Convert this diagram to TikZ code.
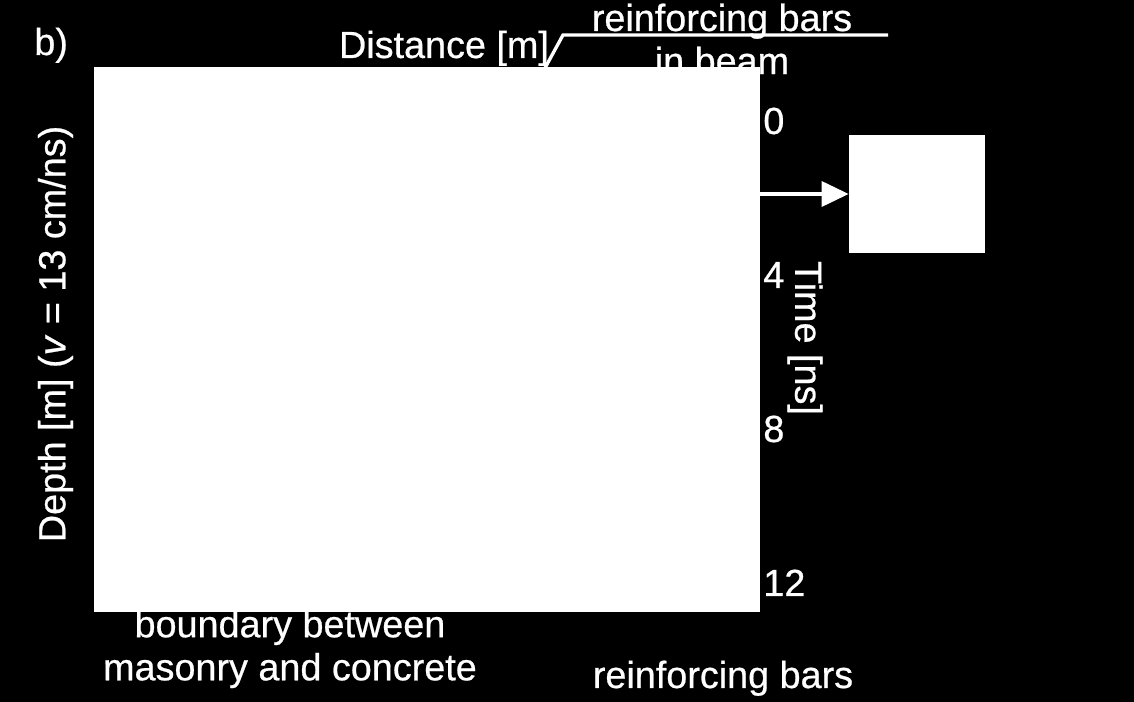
\documentclass[tikz,border=0pt]{standalone}
\usepackage{fontspec}
\setmainfont{Liberation Sans}
\newfontfamily\plotfont{Liberation Sans}[FakeBold=0.6]
\usetikzlibrary{arrows.meta,positioning}
\tikzset{
  label/.style={text=white, inner sep=0pt, font=\plotfont\fontsize{21.5}{24.5}\selectfont},
  panel/.style={fill=white, draw=none, inner sep=0pt},
  tick/.style={label, anchor=base west},
  leader/.style={draw=white, line width=1.9pt},
  pointer/.style={draw=white, line width=2pt, -{Triangle[length=0.54cm,width=0.5cm]}}
}

\begin{document}
\begin{tikzpicture}[x=0.02cm, y=-0.02cm]
    \fill[black] (0,0) rectangle (1134,702);
    \useasboundingbox (0,0) rectangle (1134,702);

    \node[label, anchor=base west] (tag) at (34,55) {b)};
    \node[label, anchor=base] (distlabel) at (444,58) {Distance [m]};
    \node[label, align=center] (beambars) at (722,39) {reinforcing bars\\in beam};

    % radargram and inset
    \node[panel, minimum width=13.32cm, minimum height=10.9cm] (radar) at (427,339.5) {};
    \node[panel, minimum width=2.72cm, minimum height=2.36cm] (inset) at (917,194) {};
    \draw[pointer] (radar.east |- inset.west) -- (inset.west);

    \coordinate (leadfoot) at (545,68);
    \coordinate (kink) at (563,35);
    \coordinate (leadend) at (888,35);
    \draw[leader] (leadfoot) -- (kink) -- (leadend);

    % axes
    \node[label, rotate=90] (depthlabel) at (55.5,334) {Depth [m] (\textit{v} = 13 cm/ns)};
    \node[label, rotate=-90] (timelabel) at (805,338) {Time [ns]};
    \foreach \t [count=\i from 0] in {0,4,8,12}
      \node[tick] (t\t) at (763,134+154*\i) {\t};

    \node[label, align=center] (boundary) at (290,649) {boundary between\\masonry and concrete};
    \node[label, anchor=base] (bars) at (723,688) {reinforcing bars};
  \end{tikzpicture}
\end{document}
